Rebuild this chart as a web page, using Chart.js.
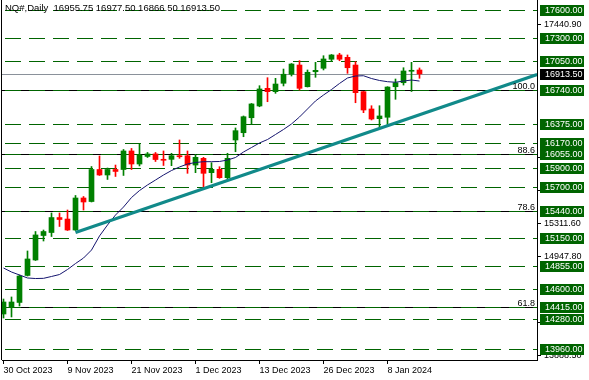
<!DOCTYPE html>
<html>
<head>
<meta charset="utf-8">
<script src="https://cdn.jsdelivr.net/npm/chart.js@4.4.0/dist/chart.umd.min.js"></script>
<style>
html, body { margin: 0; padding: 0; background: #fff; }
canvas { display: block; }
</style>
</head>
<body>
<canvas id="nqChart" width="589" height="380"></canvas>
<script>
// ================= DATOS =================
const chartTitle = "NQ#,Daily  16955.75 16977.50 16866.50 16913.50";

const openP = [14335, 14410, 14459, 14749, 14915, 15178, 15210, 15371, 15355, 15237,
    15581, 15543, 15887, 15828, 15887, 15887, 16086, 15946, 16027, 16054,
    15996, 15996, 16035, 16035, 15935, 16007, 15853, 15889, 15799, 16204,
    16282, 16443, 16569, 16759, 16723, 16813, 16910, 17009, 16776, 16937,
    16974, 17071, 17117, 17092, 17009, 16723, 16537, 16433, 16448, 16776,
    16819, 16942, 16955.75];
const highP = [14496, 14518, 14754, 15012, 15221, 15237, 15420, 15420, 15452, 15608,
    15597, 15919, 16032, 15903, 15935, 16102, 16113, 16161, 16070, 16070,
    16086, 16061, 16204, 16086, 16050, 16018, 15960, 15917, 16061, 16333,
    16462, 16596, 16787, 16873, 16866, 16966, 17025, 17056, 16956, 17038,
    17109, 17122, 17135, 17117, 17045, 16725, 16572, 16572, 16776, 16859,
    16980, 17038, 16977.5];
const lowP = [14292, 14303, 14421, 14743, 14910, 15119, 15167, 15275, 15232, 15232,
    15452, 15538, 15823, 15780, 15812, 15823, 15887, 15925, 16016, 15973,
    15930, 15928, 16007, 15846, 15853, 15691, 15745, 15792, 15774, 16078,
    16239, 16376, 16561, 16615, 16705, 16784, 16891, 16741, 16773, 16877,
    16956, 17045, 17055, 16920, 16604, 16497, 16419, 16330, 16347, 16641,
    16794, 16725, 16866.5];
const closeP = [14464, 14464, 14743, 14926, 15184, 15221, 15371, 15350, 15237, 15581,
    15538, 15887, 15828, 15887, 15866, 16086, 15946, 16043, 16054, 15994,
    15986, 16035, 16024, 15935, 16018, 15846, 15889, 15799, 16007, 16304,
    16454, 16591, 16752, 16723, 16805, 16910, 17020, 16759, 16931, 16952,
    17074, 17117, 17071, 16980, 16712, 16526, 16429, 16462, 16773, 16819,
    16945, 16942, 16913.5];

// media movil
const maValues = [14829, 14786, 14754, 14722, 14716, 14718, 14738, 14759, 14813, 14877,
    14936, 15022, 15173, 15291, 15398, 15484, 15586, 15661, 15721, 15774,
    15828, 15876, 15914, 15946, 15962, 15971, 15971, 15973, 15989, 16016,
    16075, 16123, 16172, 16209, 16263, 16317, 16376, 16451, 16537, 16623,
    16687, 16746, 16811, 16870, 16891, 16894, 16864, 16843, 16830, 16824,
    16837, 16848, 16837];

const dateLabels = ["30 Oct 2023", "9 Nov 2023", "21 Nov 2023", "1 Dec 2023", "13 Dec 2023", "26 Dec 2023", "8 Jan 2024"];
const dateBars = [0, 8, 16, 24, 32, 40, 48];

const priceTicks = [17440.90, 16017.80, 15664.70, 15311.60, 14947.80, 14241.00, 13888.50];

const levelPrices = [17600, 17300, 17050, 16740, 16375, 16170, 16055, 15900, 15700, 15440, 15150, 14855, 14600, 14415, 14280, 13960];
const fibPrices = [16740, 16055, 15440, 14415];
const fibLabels = ["100.0", "88.6", "78.6", "61.8"];
const lastPrice = 16913.50;

const trendBars = [9, 66.7];
const trendPrices = [15210, 16907];

// ================= ESTILO =================
const upColor = '#008000';
const downColor = '#ff0000';
const levelColor = '#006400';
const maColor = '#14146e';
const trendColor = '#118a8a';
const axisFont = { family: 'Liberation Sans', size: 9 };

const barIdx = openP.map((_, i) => i);
const candleColors = barIdx.map(i => closeP[i] >= openP[i] ? upColor : downColor);

// ================= PLUGIN =================
const overlayPlugin = {
    id: 'overlay',

    beforeDatasetsDraw(chart) {
        const { ctx, chartArea: a, scales: { y } } = chart;
        ctx.save();
        ctx.beginPath();
        ctx.rect(a.left, a.top, a.right - a.left, a.bottom - a.top);
        ctx.clip();
        ctx.lineWidth = 1;

        // lineas fibo (negras) debajo
        ctx.strokeStyle = '#000';
        fibPrices.forEach(p => {
            const py = Math.round(y.getPixelForValue(p)) + 0.5;
            ctx.beginPath(); ctx.moveTo(a.left, py); ctx.lineTo(a.right, py); ctx.stroke();
        });

        // niveles horizontales verdes
        ctx.strokeStyle = levelColor;
        ctx.setLineDash([16, 8]);
        ctx.lineDashOffset = -3;
        levelPrices.forEach(p => {
            const py = Math.round(y.getPixelForValue(p)) + 0.5;
            ctx.beginPath(); ctx.moveTo(a.left, py); ctx.lineTo(a.right, py); ctx.stroke();
        });

        // precio actual
        ctx.setLineDash([]);
        ctx.strokeStyle = '#8a919a';
        const ly = Math.round(y.getPixelForValue(lastPrice)) + 0.5;
        ctx.beginPath(); ctx.moveTo(a.left, ly); ctx.lineTo(a.right, ly); ctx.stroke();
        ctx.restore();
    },

    afterDatasetsDraw(chart) {
        const { ctx, chartArea: a, scales: { y } } = chart;
        ctx.save();
        ctx.font = '9px "Liberation Sans"';
        ctx.fillStyle = '#000';
        ctx.textAlign = 'right';
        ctx.textBaseline = 'alphabetic';
        fibPrices.forEach((p, i) => {
            const py = Math.round(y.getPixelForValue(p));
            ctx.fillText(fibLabels[i], a.right - 2, py - 1);
        });

        ctx.font = '9.5px "Liberation Sans"';
        ctx.textAlign = 'left';
        ctx.fillText(chartTitle, 5, 11);

        // borde izquierdo
        ctx.strokeStyle = '#000';
        ctx.lineWidth = 1;
        ctx.beginPath(); ctx.moveTo(a.left - 0.5, a.top); ctx.lineTo(a.left - 0.5, a.bottom); ctx.stroke();
        ctx.restore();
    },

    afterDraw(chart) {
        const { ctx, chartArea: a, scales: { y } } = chart;
        ctx.save();
        ctx.font = '9px "Liberation Sans"';
        ctx.textAlign = 'left';
        ctx.textBaseline = 'middle';
        const drawBox = (p, bg) => {
            const py = Math.round(y.getPixelForValue(p));
            ctx.fillStyle = bg;
            ctx.fillRect(a.right + 3, py - 5, 44, 11);
            ctx.fillStyle = '#fff';
            ctx.fillText(p.toFixed(2), a.right + 8, py + 0.5);
        };
        levelPrices.forEach(p => drawBox(p, levelColor));
        drawBox(lastPrice, '#000');
        ctx.restore();
    }
};

// ================= GRAFICA =================
const xMin = -0.1875;
const xMax = xMin + 535 / 8;

new Chart(document.getElementById('nqChart'), {
    type: 'bar',
    data: {
        datasets: [{
            type: 'line',
            data: [{ x: trendBars[0], y: trendPrices[0] }, { x: trendBars[1], y: trendPrices[1] }],
            borderColor: trendColor,
            borderWidth: 3,
            pointRadius: 0,
            order: 0
        }, {
            type: 'line',
            data: barIdx.map(i => ({ x: i, y: maValues[i] })),
            borderColor: maColor,
            borderWidth: 1,
            pointRadius: 0,
            tension: 0,
            order: 1
        }, {
            type: 'bar',
            data: barIdx.map(i => ({ x: i, y: [openP[i], closeP[i]] })),
            backgroundColor: candleColors,
            borderWidth: 0,
            barThickness: 5,
            minBarLength: 1,
            grouped: false,
            order: 2
        }, {
            type: 'bar',
            data: barIdx.map(i => ({ x: i, y: [lowP[i], highP[i]] })),
            backgroundColor: candleColors,
            borderWidth: 0,
            barThickness: 1,
            grouped: false,
            order: 3
        }]
    },
    options: {
        responsive: false,
        animation: false,
        devicePixelRatio: 1,
        layout: { padding: { left: 2, top: 0, right: 0, bottom: 0 } },
        plugins: { legend: { display: false }, tooltip: { enabled: false } },
        scales: {
            x: {
                type: 'linear',
                min: xMin,
                max: xMax,
                offset: false,
                afterBuildTicks: (scale) => { scale.ticks = dateBars.map(v => ({ value: v })); },
                afterFit: (scale) => { scale.height = 20; scale.paddingLeft = 0; scale.paddingRight = 0; },
                ticks: {
                    callback: (v, i) => dateLabels[i],
                    align: 'start',
                    maxRotation: 0,
                    autoSkip: false,
                    padding: 1,
                    color: '#000',
                    font: axisFont
                },
                grid: { display: true, drawOnChartArea: false, tickLength: 4, color: '#000', offset: false },
                border: { display: true, color: '#000' }
            },
            y: {
                type: 'linear',
                position: 'right',
                min: 13841,
                max: 17707.4,
                afterBuildTicks: (scale) => { scale.ticks = priceTicks.map(v => ({ value: v })); },
                afterFit: (scale) => { scale.width = 52; scale.paddingTop = 0; scale.paddingBottom = 0; },
                ticks: {
                    callback: (v) => v.toFixed(2),
                    autoSkip: false,
                    padding: 3,
                    color: '#000',
                    font: axisFont
                },
                grid: { display: true, drawOnChartArea: false, tickLength: 4, color: '#000' },
                border: { display: true, color: '#000' }
            }
        }
    },
    plugins: [overlayPlugin]
});
</script>
</body>
</html>
